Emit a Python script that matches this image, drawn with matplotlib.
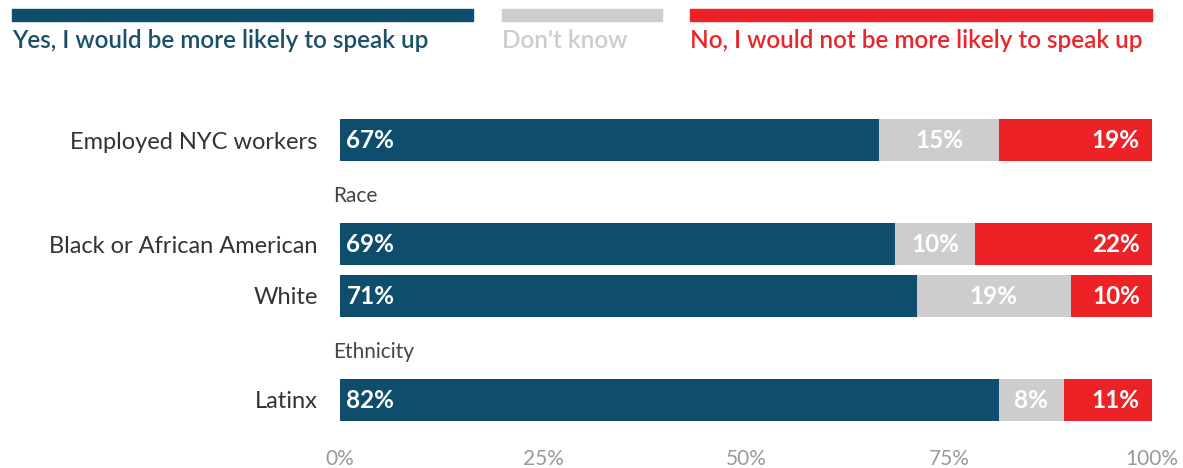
import matplotlib.pyplot as plt
from matplotlib.patches import Rectangle
import numpy as np

# datos del grafico
categorias = ['Employed NYC workers', 'Black or African American', 'White', 'Latinx']
si = [67, 69, 71, 82]
no_sabe = [15, 10, 19, 8]
no = [19, 22, 10, 11]
grupos = ['Race', 'Ethnicity']
series = ['Yes, I would be more likely to speak up', "Don't know",
          'No, I would not be more likely to speak up']
ticks = [0, 25, 50, 75, 100]

colores = ['#0e4d6b', '#cfcccf', '#ec2227']
color_txt = ['#1b4f6a', '#cccccc', '#e8262b']

plt.rcParams['font.family'] = ['Lato', 'DejaVu Sans']

fig = plt.figure(figsize=(11.83, 4.68), dpi=100)
W, H = 1183, 468

# posiciones de las filas (la grafica deja huecos para 'Race' y 'Ethnicity')
pos = np.array([0, 2, 3, 5])
pos_grupos = [1.08, 4.08]

ax = fig.add_axes([340 / W, 1 - 441.6 / H, 812 / W, 343.2 / H])

valores = np.array([si, no_sabe, no], dtype=float)
totales = valores.sum(axis=0)
frac = valores / totales

izq = np.zeros(len(categorias))
for k in range(3):
    ax.barh(pos, frac[k], left=izq, height=0.8, color=colores[k], edgecolor='none')
    for i in range(len(categorias)):
        txt = f'{int(valores[k, i])}%'
        if k == 0:
            ax.text(izq[i] + 0.008, pos[i], txt, ha='left', va='center',
                    color='white', fontsize=17.5, fontweight='bold')
        elif k == 1:
            ax.text(izq[i] + frac[k, i] / 2, pos[i], txt, ha='center', va='center',
                    color='white', fontsize=17.5, fontweight='bold')
        else:
            ax.text(izq[i] + frac[k, i] - 0.015, pos[i], txt, ha='right', va='center',
                    color='white', fontsize=17.5, fontweight='bold')
    izq += frac[k]

for g, p in zip(grupos, pos_grupos):
    ax.text(-0.009, p, g, ha='left', va='center', color='#444444', fontsize=15)

ax.set_xlim(0, 1)
ax.set_ylim(5.8, -0.8)
ax.set_yticks(pos)
ax.set_yticklabels(categorias, fontsize=17, color='#333333')
ax.set_xticks(np.array(ticks) / 100)
ax.set_xticklabels([f'{t}%' for t in ticks], fontsize=15, color='#999999')
ax.tick_params(axis='both', length=0)
ax.tick_params(axis='y', pad=16)
ax.tick_params(axis='x', pad=5)
for s in ax.spines.values():
    s.set_visible(False)

# leyenda arriba
leg_x = [12, 502, 690]
leg_fin = [473, 662, 1152]
for k in range(3):
    fig.patches.append(Rectangle((leg_x[k] / W, 1 - 21 / H), (leg_fin[k] - leg_x[k]) / W,
                                 12 / H, transform=fig.transFigure,
                                 color=colores[k], zorder=1))
    fig.text(leg_x[k] / W, 1 - 40 / H, series[k], ha='left', va='center',
             color=color_txt[k], fontsize=17.5, fontweight='semibold')

fig.savefig('out.png', dpi=100)
